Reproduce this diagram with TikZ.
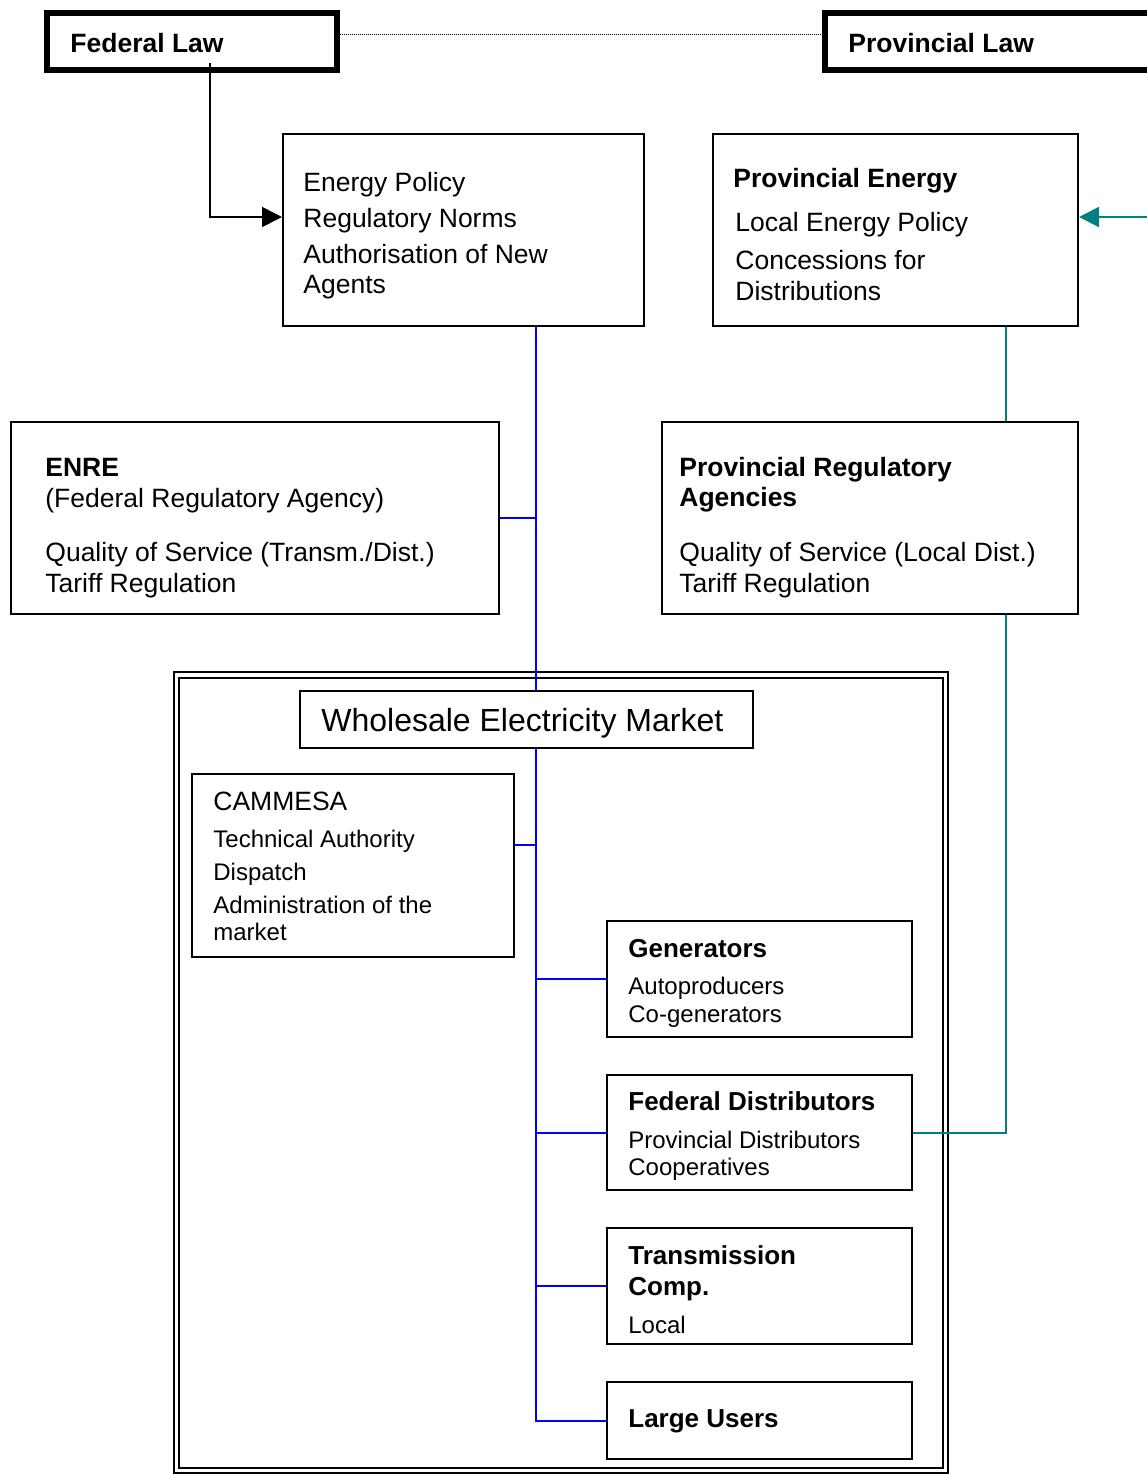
\documentclass[tikz,border=0pt]{standalone}
\usepackage{fontspec}
\setmainfont{Liberation Sans}
\usetikzlibrary{arrows.meta,fit}
\definecolor{busblue}{RGB}{0,0,255}
\definecolor{provteal}{RGB}{0,128,128}
\tikzset{
  box/.style={draw, line width=1pt, inner sep=0pt},
  lawbox/.style={draw, line width=2.75pt, inner sep=0pt},
  txt/.style={inner sep=0pt, anchor=base west, font=\fontsize{13.25}{16}\selectfont},
  txtb/.style={txt, font=\fontsize{13.25}{16}\selectfont\bfseries},
  sml/.style={txt, font=\fontsize{12}{14}\selectfont},
  smlb/.style={txt, font=\fontsize{13}{15}\selectfont\bfseries},
  fedline/.style={busblue, line width=1pt},
  provline/.style={provteal, line width=1pt},
  tip/.style={-{Triangle[length=10pt,width=10pt]}},
}
\begin{document}
\begin{tikzpicture}[x=0.5pt,y=0.5pt,yscale=-1,xscale=1]
\useasboundingbox (0,0) rectangle (1147,1474);

%Shape: Rectangle -- laws
\node[lawbox, fit={(47,13) (337,70)}] (fedlaw) {};
\node[lawbox, fit={(825,13) (1175,70)}] (provlaw) {};
%Shape: Rectangle -- upper boxes
\node[box, fit={(283,134) (644,326)}] (enpol) {};
\node[box, fit={(713,134) (1078,326)}] (proven) {};
\node[box, fit={(11,422) (499,614)}] (enre) {};
\node[box, fit={(662,422) (1078,614)}] (provreg) {};
%Shape: Double frame
\node[box, line width=1.25pt, fit={(174,672) (948,1473)}] (frameout) {};
\node[box, fit={(179,678) (943,1468)}] (framein) {};
%Shape: Rectangle -- market boxes
\node[box, fill=white, fit={(300,691) (753,748)}] (wem) {};
\node[box, fit={(192,774) (514,957)}] (cam) {};
\node[box, fit={(607,921) (912,1037)}] (gen) {};
\node[box, fit={(607,1075) (912,1190)}] (feddist) {};
\node[box, fit={(607,1228) (912,1344)}] (trans) {};
\node[box, fit={(607,1382) (912,1459)}] (large) {};

\coordinate (fedbus) at (536,0);
\coordinate (provbus) at (1006,0);
\coordinate (flout) at (210,63);
\coordinate (plin) at (1175,217);

%Straight Lines -- law links
\draw[line width=0.5pt, dash pattern=on 0.5pt off 0.5pt] ([yshift=-3.75pt]fedlaw.east) -- ([yshift=-3.75pt]provlaw.west);
\draw[tip, line width=0.8pt] (flout) |- ([yshift=-6.5pt]enpol.west);
\draw[provline, tip] (plin) -- ([yshift=-6.5pt]proven.east);
%Straight Lines -- federal bus
\draw[fedline] (enpol.south -| fedbus) -- (wem.north -| fedbus);
\draw[fedline] (enre.east) -- (enre.east -| fedbus);
\draw[fedline] (wem.south -| fedbus) |- (large.west);
\draw[fedline] ([yshift=-10.25pt]cam.east) -- ([yshift=-10.25pt]cam.east -| fedbus);
\draw[fedline] (gen.west -| fedbus) -- (gen.west);
\draw[fedline] (feddist.west -| fedbus) -- (feddist.west);
\draw[fedline] (trans.west -| fedbus) -- (trans.west);
%Straight Lines -- provincial bus
\draw[provline] (proven.south -| provbus) -- (provreg.north -| provbus);
\draw[provline] (provreg.south -| provbus) |- (feddist.east);

% Text Node
\node[txtb] (fedlaw-t) at (70,52) {Federal Law};
\node[txtb] (provlaw-t) at (848,52) {Provincial Law};
% Text Node
\node[txt] (enpol-1) at (303,191) {Energy Policy};
\node[txt] (enpol-2) at (303,227) {Regulatory Norms};
\node[txt] (enpol-3) at (303,263) {Authorisation of New};
\node[txt] (enpol-4) at (303,293) {Agents};
% Text Node
\node[txtb] (proven-1) at (733,187) {Provincial Energy};
\node[txt] (proven-2) at (735,231) {Local Energy Policy};
\node[txt] (proven-3) at (735,269) {Concessions for};
\node[txt] (proven-4) at (735,300) {Distributions};
% Text Node
\node[txtb] (enre-1) at (45,476) {ENRE};
\node[txt] (enre-2) at (45,507) {(Federal Regulatory Agency)};
\node[txt] (enre-3) at (45,561) {Quality of Service (Transm./Dist.)};
\node[txt] (enre-4) at (45,592) {Tariff Regulation};
% Text Node
\node[txtb] (provreg-1) at (679,476) {Provincial Regulatory};
\node[txtb] (provreg-2) at (679,506) {Agencies};
\node[txt] (provreg-3) at (679,561) {Quality of Service (Local Dist.)};
\node[txt] (provreg-4) at (679,592) {Tariff Regulation};
% Text Node
\node[txt, font=\fontsize{16}{19}\selectfont] (wem-t) at (321,731) {Wholesale Electricity Market};
% Text Node
\node[txt] (cam-1) at (213,810) {CAMMESA};
\node[sml] (cam-2) at (213,847) {Technical Authority};
\node[sml] (cam-3) at (213,880) {Dispatch};
\node[sml] (cam-4) at (213,913) {Administration of the};
\node[sml] (cam-5) at (213,940) {market};
% Text Node
\node[smlb] (gen-1) at (628,957) {Generators};
\node[sml] (gen-2) at (628,994) {Autoproducers};
\node[sml] (gen-3) at (628,1022) {Co-generators};
% Text Node
\node[smlb] (feddist-1) at (628,1110) {Federal Distributors};
\node[sml] (feddist-2) at (628,1148) {Provincial Distributors};
\node[sml] (feddist-3) at (628,1175) {Cooperatives};
% Text Node
\node[smlb] (trans-1) at (628,1264) {Transmission};
\node[smlb] (trans-2) at (628,1295) {Comp.};
\node[sml] (trans-3) at (628,1333) {Local};
% Text Node
\node[smlb] (large-1) at (628,1427) {Large Users};

\end{tikzpicture}
\end{document}
